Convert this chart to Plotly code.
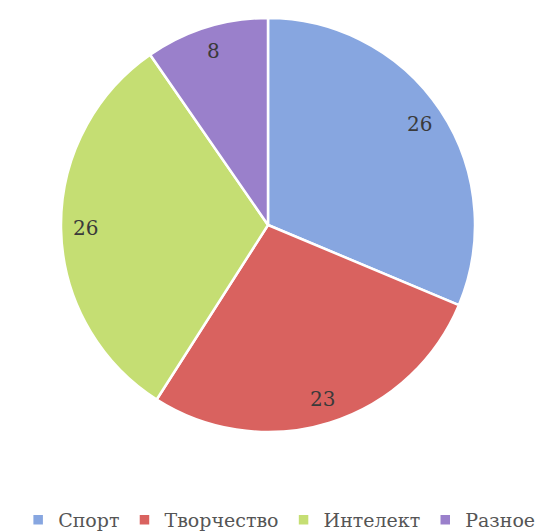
import math
import plotly.graph_objects as go

labels = ["Спорт", "Творчество", "Интелект", "Разное"]
values = [26, 23, 26, 8]
colors = ["#87a6e0", "#d9625f", "#c5de73", "#9a80cb"]

# page body has an 8px margin, so the figure is sized to the visible area
W, H = 538, 524
ml, mr, mt, mb = 0, 0, 10, 100
pw, ph = W - ml - mr, H - mt - mb
pie_w = 520                      # pixel width of the pie domain (left part of plot area)
R = min(pie_w, ph) / 2
label_frac = 0.88
SERIF = "DejaVu Serif"

fig = go.Figure(go.Pie(
    labels=labels, values=values, sort=False, direction="clockwise", rotation=0,
    marker=dict(colors=colors, line=dict(color="white", width=2.5)),
    textinfo="none", hoverinfo="label+value",
    domain=dict(x=[0, pie_w / pw], y=[0, 1]),
))

# value labels near the rim, placed from the data
total = sum(values)
cum = 0
for v in values:
    mid = (cum + v / 2) / total * 2 * math.pi
    cum += v
    dx = math.sin(mid) * R * label_frac
    dy = math.cos(mid) * R * label_frac
    fig.add_annotation(
        x=(pie_w / 2 + dx) / pw, y=0.5 + dy / ph, xref="paper", yref="paper",
        xanchor="center", yanchor="middle",
        text=str(v), showarrow=False,
        font=dict(family=SERIF, size=20, color="#3a3a3a"),
    )

fig.update_layout(
    width=W, height=H,
    margin=dict(l=ml, r=mr, t=mt, b=mb, pad=0, autoexpand=False),
    paper_bgcolor="white", plot_bgcolor="white",
    showlegend=True,
    legend=dict(
        orientation="h", x=0.504, xanchor="center", y=-(512 - 424) / ph, yanchor="middle",
        font=dict(family=SERIF, size=19, color="#555555"),
        itemwidth=30, traceorder="normal",
    ),
)

fig.write_html("out.html")
